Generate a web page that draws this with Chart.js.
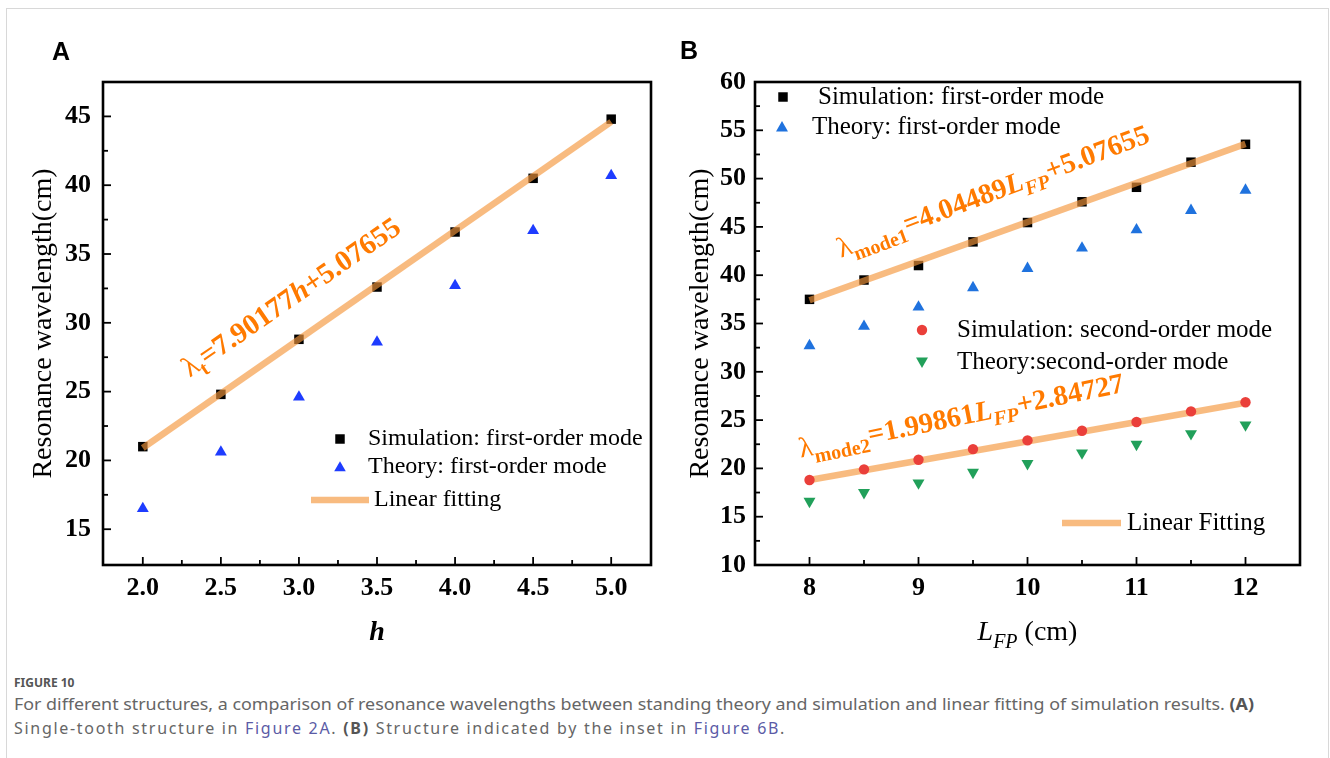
<!DOCTYPE html>
<html>
<head>
<meta charset="utf-8">
<script src="https://cdn.jsdelivr.net/npm/chart.js@4.4.1/dist/chart.umd.min.js"></script>
<style>
  body { margin: 0; background: #fff; width: 1330px; height: 758px; overflow: hidden; position: relative; }
  #frame { position: absolute; left: 6px; top: 8px; width: 1323px; height: 800px; border: 1px solid #d8d8d8; box-sizing: border-box; }
  .panel-label { position: absolute; font: bold 25px 'Liberation Sans', Arial, sans-serif; line-height: 25px; color: #000; }
  canvas { position: absolute; top: 0; }
  #caption { position: absolute; left: 14px; top: 674px; font-family: 'Noto Sans', sans-serif; color: #666; }
  .fig-num { font-size: 12px; font-weight: bold; color: #555; line-height: 18px; }
  .cap-line { font-size: 16px; line-height: 24px; white-space: nowrap; transform-origin: 0 0; width: max-content; }
  .cap-line a { color: #5b5ba6; text-decoration: none; }
  .cap-line b { color: #555; }
</style>
</head>
<body>
<div id="frame"></div>
<canvas id="chartA" width="665" height="660" style="left:0"></canvas>
<canvas id="chartB" width="665" height="660" style="left:665px"></canvas>
<div class="panel-label" style="left:52px;top:39px">A</div>
<div class="panel-label" style="left:680px;top:38px">B</div>
<div id="caption">
  <div class="fig-num">FIGURE 10</div>
  <div class="cap-line" data-width="1240">For different structures, a comparison of resonance wavelengths between standing theory and simulation and linear fitting of simulation results. <b>(A)</b></div>
  <div class="cap-line" data-width="772">Single-tooth structure in <a>Figure 2A</a>. <b>(B)</b> Structure indicated by the inset in <a>Figure 6B</a>.</div>
</div>
<script>
// Panel A: single-tooth structure, wavelength vs h
const hValues = [2.0, 2.5, 3.0, 3.5, 4.0, 4.5, 5.0];
const simFirstA = [21.0, 24.8, 28.8, 32.6, 36.6, 40.5, 44.8];
const theoryFirstA = [16.5, 20.6, 24.6, 28.6, 32.7, 36.7, 40.7];
const fitXA = [2.0, 5.0];
const fitYA = [20.9, 44.6];
const xTicksA = [2.0, 2.5, 3.0, 3.5, 4.0, 4.5, 5.0];
const xLabelsA = ['2.0', '2.5', '3.0', '3.5', '4.0', '4.5', '5.0'];
const yTicksA = [15, 20, 25, 30, 35, 40, 45];

// Panel B: wavelength vs L_FP
const lfpValues = [8, 8.5, 9, 9.5, 10, 10.5, 11, 11.5, 12];
const simFirstB = [37.5, 39.5, 41.0, 43.45, 45.45, 47.6, 49.1, 51.7, 53.55];
const theoryFirstB = [32.7, 34.7, 36.7, 38.7, 40.7, 42.8, 44.7, 46.7, 48.8];
const simSecondB = [18.8, 19.9, 20.9, 22.0, 22.9, 23.9, 24.8, 25.9, 26.85];
const theorySecondB = [16.6, 17.5, 18.5, 19.6, 20.5, 21.6, 22.5, 23.6, 24.5];
const fitXB = [8, 12];
const fitFirstB = [37.4, 53.6];
const fitSecondB = [18.8, 26.8];
const xTicksB = [8, 9, 10, 11, 12];
const yTicksB = [10, 15, 20, 25, 30, 35, 40, 45, 50, 55, 60];

const SERIF = "'Liberation Serif', 'Times New Roman', serif";
const ORANGE_TEXT = '#ff7a00';
const FIT_COLOR = 'rgba(245, 150, 60, 0.65)';
const tickFont = { family: SERIF, size: 26, weight: 'bold' };

Chart.defaults.font.family = SERIF;
Chart.defaults.color = '#000';

const toPoints = (xs, ys) => xs.map((x, i) => ({ x: x, y: ys[i] }));

function drawMarker(ctx, style, radius, rotation, color, x, y) {
    ctx.save();
    ctx.fillStyle = color;
    ctx.strokeStyle = color;
    Chart.helpers.drawPoint(ctx, { pointStyle: style, radius: radius, rotation: rotation, borderWidth: 0 }, x, y);
    ctx.restore();
}

// text made of pieces, some lowered as subscripts, optionally rotated
function drawRich(ctx, parts, x, y, angleDeg, color, align) {
    ctx.save();
    ctx.translate(x, y);
    ctx.rotate(angleDeg * Math.PI / 180);
    ctx.fillStyle = color;
    ctx.textBaseline = 'alphabetic';
    ctx.textAlign = 'left';
    let total = 0;
    parts.forEach(p => { ctx.font = p.font; total += ctx.measureText(p.text).width; });
    let cx = align === 'center' ? -total / 2 : 0;
    parts.forEach(p => {
        ctx.font = p.font;
        ctx.fillText(p.text, cx, p.dy || 0);
        cx += ctx.measureText(p.text).width;
    });
    ctx.restore();
}

// frame plus inward major/minor ticks on bottom and left
const axesBox = {
    id: 'axesBox',
    afterDatasetsDraw(chart) {
        const { ctx, chartArea: a, scales } = chart;
        const x = scales.x, y = scales.y;
        const line = (x1, y1, x2, y2) => { ctx.beginPath(); ctx.moveTo(x1, y1); ctx.lineTo(x2, y2); ctx.stroke(); };
        ctx.save();
        ctx.strokeStyle = '#000';
        ctx.lineWidth = 1.8;
        const xs = x.ticks.map(t => t.value);
        const ys = y.ticks.map(t => t.value);
        xs.forEach(v => { const p = x.getPixelForValue(v); line(p, a.bottom, p, a.bottom - 8); });
        ys.forEach(v => { const p = y.getPixelForValue(v); line(a.left, p, a.left + 8, p); });
        for (let i = 0; i < xs.length - 1; i++) {
            const p = x.getPixelForValue((xs[i] + xs[i + 1]) / 2);
            line(p, a.bottom, p, a.bottom - 5);
        }
        for (let i = 0; i < ys.length - 1; i++) {
            const p = y.getPixelForValue((ys[i] + ys[i + 1]) / 2);
            line(a.left, p, a.left + 5, p);
        }
        ctx.lineWidth = 2.6;
        ctx.strokeRect(a.left, a.top, a.right - a.left, a.bottom - a.top);
        ctx.restore();
    }
};

function baseScales(xMin, xMax, xTicks, xLabels, yMin, yMax, yTicks, yTitlePad, yTickPad, yWidth) {
    return {
        x: {
            type: 'linear', min: xMin, max: xMax,
            afterBuildTicks: s => { s.ticks = xTicks.map(v => ({ value: v })); },
            afterFit: s => { s.height = 95; },
            grid: { display: false, drawTicks: false },
            border: { display: false },
            ticks: { callback: (v, i) => xLabels[i], font: tickFont, color: '#000', padding: 8, maxRotation: 0, autoSkip: false }
        },
        y: {
            type: 'linear', min: yMin, max: yMax,
            afterBuildTicks: s => { s.ticks = yTicks.map(v => ({ value: v })); },
            afterFit: s => { s.width = yWidth; },
            grid: { display: false, drawTicks: false },
            border: { display: false },
            ticks: { callback: (v, i) => String(yTicks[i]), font: tickFont, color: '#000', padding: yTickPad, autoSkip: false },
            title: {
                display: true, text: 'Resonance wavelength(cm)', color: '#000',
                font: { family: SERIF, size: 28, weight: 'normal' },
                padding: { top: yTitlePad, bottom: 0 }
            }
        }
    };
}

const commonOptions = {
    responsive: false,
    animation: false,
    events: [],
    plugins: { legend: { display: false }, tooltip: { enabled: false } }
};

// ---------- Panel A ----------
const notesA = {
    id: 'notesA',
    afterDatasetsDraw(chart) {
        const { ctx, chartArea: a, scales: { x, y } } = chart;
        const big = 'bold 29px ' + SERIF;
        drawRich(ctx, [
            { text: 'λ', font: '29px ' + SERIF },
            { text: 't', font: 'bold 20px ' + SERIF, dy: 7 },
            { text: '=7.90177', font: big },
            { text: 'h', font: 'bold italic 29px ' + SERIF },
            { text: '+5.07655', font: big }
        ], x.getPixelForValue(2.3), y.getPixelForValue(26.0), -34.5, ORANGE_TEXT);

        // legend
        const lx = a.left + 237, ty = a.top;
        ctx.save();
        ctx.font = '24px ' + SERIF;
        ctx.fillStyle = '#000';
        ctx.textBaseline = 'middle';
        drawMarker(ctx, 'rect', 6.7, 0, '#000', lx, ty + 357);
        ctx.fillText('Simulation: first-order mode', a.left + 265, ty + 357);
        drawMarker(ctx, 'triangle', 6.7, 0, '#1e3cff', lx, ty + 386);
        ctx.fillText('Theory: first-order mode', a.left + 265, ty + 385);
        ctx.strokeStyle = FIT_COLOR;
        ctx.lineWidth = 6.5;
        ctx.beginPath();
        ctx.moveTo(a.left + 208, ty + 418);
        ctx.lineTo(a.left + 266, ty + 418);
        ctx.stroke();
        ctx.fillText('Linear fitting', a.left + 271, ty + 418);
        ctx.restore();

        drawRich(ctx, [{ text: 'h', font: 'bold italic 28px ' + SERIF }],
            (a.left + a.right) / 2, 640, 0, '#000', 'center');
    }
};

new Chart(document.getElementById('chartA'), {
    type: 'scatter',
    data: {
        datasets: [
            {
                label: 'Linear fitting', data: toPoints(fitXA, fitYA), showLine: true,
                borderColor: FIT_COLOR, borderWidth: 6.5, pointRadius: 0, order: 0
            },
            {
                label: 'Simulation: first-order mode', data: toPoints(hValues, simFirstA),
                pointStyle: 'rect', pointRadius: 6.7, backgroundColor: '#000', borderWidth: 0, order: 1
            },
            {
                label: 'Theory: first-order mode', data: toPoints(hValues, theoryFirstA),
                pointStyle: 'triangle', pointRadius: 6.9, backgroundColor: '#1e3cff', borderWidth: 0, order: 1
            }
        ]
    },
    options: Object.assign({}, commonOptions, {
        layout: { padding: { left: 0, top: 82, right: 14, bottom: 0 } },
        scales: baseScales(1.745, 5.255, xTicksA, xLabelsA, 12.4, 47.5, yTicksA, 27, 12, 103)
    }),
    plugins: [axesBox, notesA]
});

// ---------- Panel B ----------
const notesB = {
    id: 'notesB',
    afterDatasetsDraw(chart) {
        const { ctx, chartArea: a, scales: { x, y } } = chart;
        const big = 'bold 28.5px ' + SERIF;
        const sub = 'bold 20px ' + SERIF;
        drawRich(ctx, [
            { text: 'λ', font: '28.5px ' + SERIF },
            { text: 'mode1', font: sub, dy: 8 },
            { text: '=4.04489', font: big },
            { text: 'L', font: 'bold italic 28.5px ' + SERIF },
            { text: 'FP', font: 'bold italic 20px ' + SERIF, dy: 7 },
            { text: '+5.07655', font: big }
        ], x.getPixelForValue(8.29), y.getPixelForValue(41.8), -20.5, ORANGE_TEXT);
        drawRich(ctx, [
            { text: 'λ', font: '28.5px ' + SERIF },
            { text: 'mode2', font: sub, dy: 8 },
            { text: '=1.99861', font: big },
            { text: 'L', font: 'bold italic 28.5px ' + SERIF },
            { text: 'FP', font: 'bold italic 20px ' + SERIF, dy: 7 },
            { text: '+2.84727', font: big }
        ], x.getPixelForValue(7.92), y.getPixelForValue(21.1), -11.5, ORANGE_TEXT);

        // legends
        const L = a.left, T = a.top;
        ctx.save();
        ctx.font = '25px ' + SERIF;
        ctx.fillStyle = '#000';
        ctx.textBaseline = 'middle';
        drawMarker(ctx, 'rect', 6.7, 0, '#000', L + 28, T + 15);
        ctx.fillText('Simulation: first-order mode', L + 63, T + 15);
        drawMarker(ctx, 'triangle', 6.9, 0, '#1f72de', L + 27, T + 46);
        ctx.fillText('Theory: first-order mode', L + 57, T + 45);
        drawMarker(ctx, 'circle', 5.2, 0, '#ea3f3a', L + 167, T + 248);
        ctx.fillText('Simulation: second-order mode', L + 202, T + 248);
        drawMarker(ctx, 'triangle', 6.9, 180, '#21a05a', L + 167, T + 279);
        ctx.fillText('Theory:second-order mode', L + 202, T + 280);
        ctx.strokeStyle = FIT_COLOR;
        ctx.lineWidth = 6.5;
        ctx.beginPath();
        ctx.moveTo(L + 307, T + 441);
        ctx.lineTo(L + 366, T + 441);
        ctx.stroke();
        ctx.fillText('Linear Fitting', L + 372, T + 441);
        ctx.restore();

        drawRich(ctx, [
            { text: 'L', font: 'italic 28px ' + SERIF },
            { text: 'FP', font: 'italic 20px ' + SERIF, dy: 8 },
            { text: ' (cm)', font: '28px ' + SERIF }
        ], (a.left + a.right) / 2, 640, 0, '#000', 'center');
    }
};

new Chart(document.getElementById('chartB'), {
    type: 'scatter',
    data: {
        datasets: [
            {
                label: 'Simulation: second-order mode', data: toPoints(lfpValues, simSecondB),
                pointStyle: 'circle', pointRadius: 5.2, backgroundColor: '#ea3f3a', borderWidth: 0, order: 0
            },
            {
                label: 'Linear Fitting', data: toPoints(fitXB, fitFirstB), showLine: true,
                borderColor: FIT_COLOR, borderWidth: 6.5, pointRadius: 0, order: 1
            },
            {
                label: 'Linear Fitting 2', data: toPoints(fitXB, fitSecondB), showLine: true,
                borderColor: FIT_COLOR, borderWidth: 6.5, pointRadius: 0, order: 1
            },
            {
                label: 'Simulation: first-order mode', data: toPoints(lfpValues, simFirstB),
                pointStyle: 'rect', pointRadius: 6.7, backgroundColor: '#000', borderWidth: 0, order: 2
            },
            {
                label: 'Theory: first-order mode', data: toPoints(lfpValues, theoryFirstB),
                pointStyle: 'triangle', pointRadius: 6.9, backgroundColor: '#1f72de', borderWidth: 0, order: 2
            },
            {
                label: 'Theory:second-order mode', data: toPoints(lfpValues, theorySecondB),
                pointStyle: 'triangle', rotation: 180, pointRadius: 6.9, backgroundColor: '#21a05a', borderWidth: 0, order: 2
            }
        ]
    },
    options: Object.assign({}, commonOptions, {
        layout: { padding: { left: 0, top: 82, right: 30, bottom: 0 } },
        scales: baseScales(7.5, 12.5, xTicksB, xTicksB.map(String), 10, 60, yTicksB, 19, 9, 90)
    }),
    plugins: [axesBox, notesB]
});

// first caption line is squeezed to the full width, the last line is spaced out
const capLines = document.querySelectorAll('.cap-line');
capLines.forEach((el, i) => {
    const target = Number(el.dataset.width);
    const natural = el.getBoundingClientRect().width;
    if (i === 0) {
        el.style.transform = 'scaleX(' + (target / natural) + ')';
    } else {
        const chars = el.textContent.length;
        el.style.letterSpacing = ((target - natural) / chars) + 'px';
    }
});
</script>
</body>
</html>
